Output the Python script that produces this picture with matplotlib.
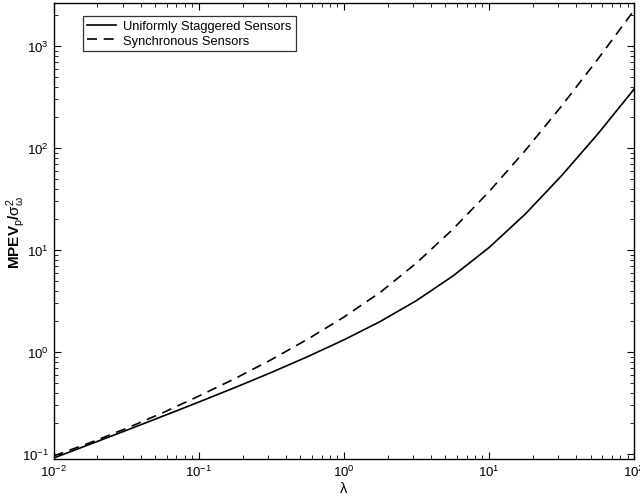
import matplotlib
matplotlib.use('Agg')
import matplotlib.pyplot as plt
import numpy as np

# values (log-log), lambda in quarter decades
lam = [0.01, 0.0178, 0.0316, 0.0562, 0.1, 0.178, 0.316, 0.562, 1,
       1.78, 3.16, 5.62, 10, 17.8, 31.6, 56.2, 100]
staggered = [0.0912, 0.1245, 0.1702, 0.2339, 0.3228, 0.4487, 0.6295, 0.8995, 1.315,
             1.991, 3.192, 5.546, 10.57, 22.59, 53.58, 137.7, 379.3]
synchronous = [0.0955, 0.1288, 0.1778, 0.2526, 0.3694, 0.5495, 0.8414, 1.334, 2.200,
               3.846, 7.458, 15.94, 37.36, 94.96, 258.5, 745.6, 2252]

plt.rcParams['font.family'] = ['Liberation Sans', 'DejaVu Sans']
plt.rcParams['mathtext.fontset'] = 'custom'
plt.rcParams['mathtext.rm'] = 'Liberation Sans'
plt.rcParams['mathtext.it'] = 'Liberation Sans'

fig = plt.figure(figsize=(6.4, 5.02), dpi=100)
ax = fig.add_axes([0.084, 0.084, 0.907, 0.908])

ax.loglog(lam, staggered, '-', color='black', linewidth=1.2, label='Uniformly Staggered Sensors')
ax.loglog(lam, synchronous, '--', color='black', linewidth=1.2, dashes=(6, 4),
          label='Synchronous Sensors')

ax.set_xlim(1e-2, 1e2)
ax.set_ylim(0.0895, 2640)
ax.tick_params(which='both', direction='in', top=True, right=True, labelsize=9.5)
ax.tick_params(which='major', length=5)
ax.tick_params(which='minor', length=3)
for s in ax.spines.values():
    s.set_linewidth(1.0)

ax.set_xlabel(r'$\lambda$', fontsize=10.5, fontweight='bold', labelpad=1)
ax.set_ylabel(r'MPEV$_p$/$\sigma^2_\omega$', fontsize=11, fontweight='bold', va='center')
ax.yaxis.set_label_coords(-0.066, 0.5)

leg = ax.legend(loc='upper left', bbox_to_anchor=(0.05, 0.972), fontsize=9.3,
                frameon=True, fancybox=False, edgecolor='black', handlelength=2.2,
                borderpad=0.35, labelspacing=0.2, handletextpad=0.6, borderaxespad=0)
leg.get_frame().set_linewidth(0.9)

plt.savefig('out.png', dpi=100)
plt.close()
